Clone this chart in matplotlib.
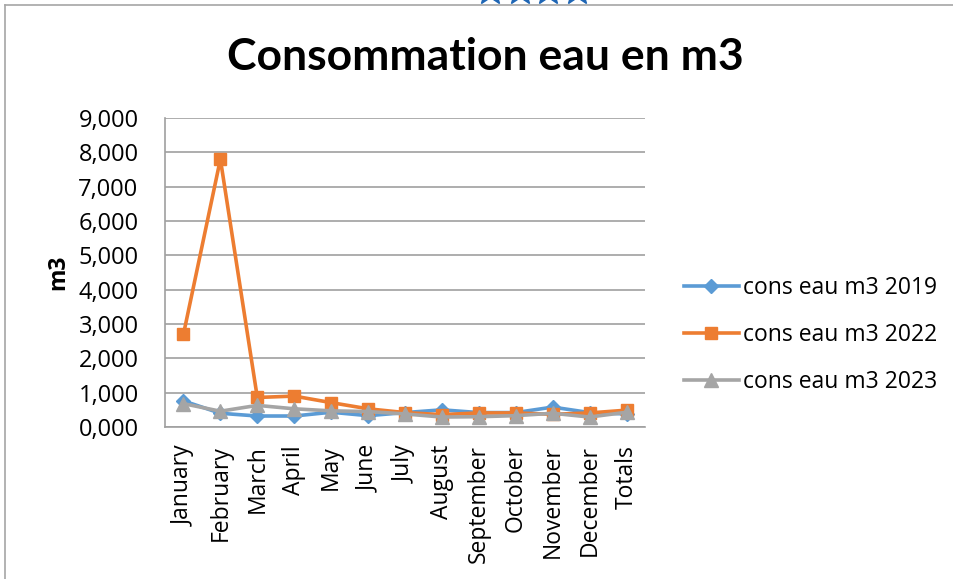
import matplotlib
matplotlib.use("Agg")
import matplotlib.pyplot as plt
from matplotlib.lines import Line2D
from matplotlib.ticker import FuncFormatter, MultipleLocator

months = ["January", "February", "March", "April", "May", "June", "July",
          "August", "September", "October", "November", "December", "Totals"]
cons_2019 = [760, 400, 320, 320, 430, 330, 420, 500, 420, 420, 580, 420, 380]
cons_2022 = [2700, 7800, 860, 900, 710, 530, 420, 360, 410, 410, 370, 410, 490]
cons_2023 = [680, 460, 630, 530, 470, 450, 380, 290, 300, 330, 400, 290, 430]
series_labels = ["cons eau m3 2019", "cons eau m3 2022", "cons eau m3 2023"]
title = "Consommation eau en m3"
ylabel = "m3"

W, H = 954, 579
fig = plt.figure(figsize=(W / 100, H / 100), dpi=100)
fig.patch.set_facecolor("white")

ax = fig.add_axes([165 / W, 1 - 427 / H, (645 - 165) / W, (427 - 118) / H])

x = list(range(len(months)))
blue, orange, grey = "#5B9BD5", "#ED7D31", "#A5A5A5"
l1, = ax.plot(x, cons_2019, color=blue, lw=2.6, marker="D", ms=7, zorder=3)
l2, = ax.plot(x, cons_2022, color=orange, lw=2.6, marker="s", ms=9, zorder=3)
l3, = ax.plot(x, cons_2023, color=grey, lw=2.6, marker="^", ms=10, zorder=4)

ax.set_xlim(-0.5, len(months) - 0.5)
ax.set_ylim(0, 9000)
ax.yaxis.set_major_locator(MultipleLocator(1000))
ax.yaxis.set_major_formatter(FuncFormatter(lambda v, p: f"{int(v/1000)},000"))
ax.set_xticks(x)
ax.set_xticklabels(months, rotation=90, fontsize=16.5, family="Open Sans")
for t in ax.get_yticklabels():
    t.set_fontsize(17)
    t.set_family("Open Sans")
ax.tick_params(axis="y", length=0, pad=19, colors="#000000")
ax.tick_params(axis="x", length=0, pad=13)

ax.grid(axis="y", color="#A0A0A0", lw=1.2)
ax.set_axisbelow(True)
for s in ["top", "right"]:
    ax.spines[s].set_visible(False)
for s in ["left", "bottom"]:
    ax.spines[s].set_color("#A0A0A0")
    ax.spines[s].set_linewidth(1.2)

ax.set_ylabel(ylabel, fontsize=16.5, fontweight="bold", family="Open Sans")
ax.yaxis.set_label_coords((70 - 165) / 480, 0.5)

fig.text(485 / W, 1 - 57 / H, title, ha="center", va="center",
         fontsize=32, fontweight="bold", family="Lato")

leg = fig.legend([l1, l2, l3], series_labels, loc="center left",
                 bbox_to_anchor=(663 / W, 1 - 335 / H), frameon=False,
                 prop={"family": "Open Sans", "size": 16.5},
                 handlelength=2.4, handletextpad=0.2, labelspacing=1.02)

# outer chart frame and decorative stars (partly above the crop)
fig.add_artist(Line2D([5 / W, 5 / W], [0, 1 - 5 / H], color="#A6A6A6", lw=1.2,
                      transform=fig.transFigure))
fig.add_artist(Line2D([5 / W, 1], [1 - 5 / H, 1 - 5 / H], color="#A6A6A6", lw=1.2,
                      transform=fig.transFigure))
for sx in [490, 520, 548, 577]:
    fig.add_artist(Line2D([sx / W], [1 + 9 / H], marker="*", ms=22, lw=0,
                          color="#1F66B5", transform=fig.transFigure,
                          clip_on=False))

fig.savefig("out.png", dpi=100)
